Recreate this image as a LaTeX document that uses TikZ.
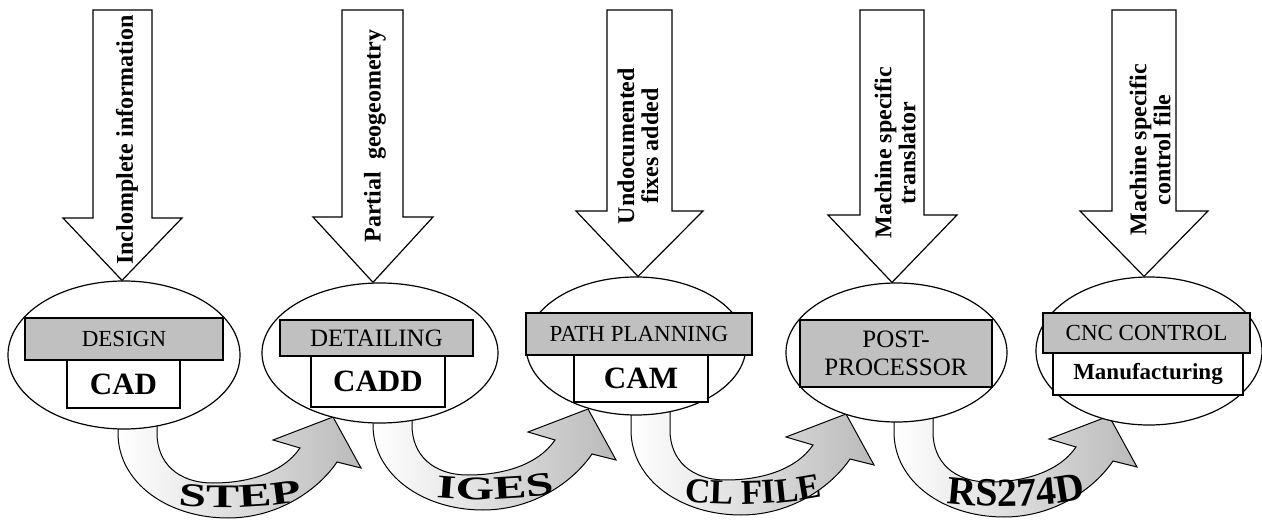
\documentclass[tikz,border=0pt]{standalone}
\usepackage{fontspec}
\setmainfont{Liberation Serif}
\newfontfamily\wordA[FakeStretch=1.5]{Liberation Serif}
\newfontfamily\wordB[FakeStretch=1.0]{Liberation Serif}
\usetikzlibrary{calc,decorations.text,shapes.geometric}
\definecolor{boxgray}{RGB}{192,192,192}
\newcommand\artlabel[2]{%
  \path[decorate,decoration={text along path,text align=center,text={|#1|#2}}]
    (20,-21) .. controls (62,-6) and (172,-6) .. (224,-28);
}
\begin{document}
\begin{tikzpicture}[x=1pt,y=-1pt,
  ell/.style={ellipse,draw,line width=1.2pt,fill=white,inner sep=0pt},
  graybox/.style={draw,line width=1.3pt,fill=boxgray,inner sep=0pt,align=center,font=\fontsize{23}{27}\selectfont},
  whitebox/.style={draw,line width=1.3pt,fill=white,inner sep=0pt,font=\fontsize{31}{31}\selectfont\bfseries},
  blockarrow/.style={draw,line width=1.2pt,fill=white,line join=miter},
  arrowtext/.style={rotate=90,align=center,font=\fontsize{24}{24}\selectfont\bfseries,inner sep=0pt},
  band/.style={draw,line width=1pt,left color=white,right color=black!27},
  bandarrow/.pic={
    \path[band] (0,-115) -- (0,-85) .. controls (0,-35) and (50,0) .. (110,0)
      .. controls (160,0) and (200,-28) .. (219,-56) -- (243,-50) -- (215,-101)
      -- (155,-78) -- (182,-70) .. controls (165,-45) and (130,-35) .. (95,-35)
      .. controls (60,-35) and (39,-55) .. (39,-85) -- (39,-115) -- cycle;
  }
]
\useasboundingbox (0,0) rectangle (1262,521);

% curved band arrows
\begin{scope}[shift={(118,518)}]
  \pic {bandarrow};
  \artlabel{\wordA\fontsize{33}{33}\selectfont\bfseries}{STEP}
\end{scope}
\begin{scope}[shift={(373,510)}]
  \pic {bandarrow};
  \artlabel{\wordA\fontsize{33}{33}\selectfont\bfseries}{IGES}
\end{scope}
\begin{scope}[shift={(631,515)}]
  \pic {bandarrow};
  \artlabel{\wordB\fontsize{35}{35}\selectfont\bfseries}{CL FILE}
\end{scope}
\begin{scope}[shift={(894,517)}]
  \pic {bandarrow};
  \artlabel{\wordB\fontsize{40}{40}\selectfont\bfseries}{RS274D}
\end{scope}

% ellipses
\node[ell,minimum width=232pt,minimum height=148pt] (e1) at (124,355) {};
\node[ell,minimum width=236pt,minimum height=140pt] (e2) at (380,353) {};
\node[ell,minimum width=220pt,minimum height=138pt] (e3) at (636,346) {};
\node[ell,minimum width=221pt,minimum height=139pt] (e4) at (896.5,352.5) {};
\node[ell,minimum width=226pt,minimum height=148pt] (e5) at (1149,351) {};

% boxes
\node[graybox,minimum width=198pt,minimum height=42pt] (g1) at (124,339) {DESIGN};
\node[whitebox,minimum width=113pt,minimum height=48pt] (w1) at (123.5,384) {CAD};
\node[graybox,minimum width=193pt,minimum height=36pt,font=\fontsize{25}{27}\selectfont] (g2) at (376.5,338) {DETAILING};
\node[whitebox,minimum width=134pt,minimum height=51pt] (w2) at (378,381.5) {CADD};
\node[graybox,minimum width=226pt,minimum height=42pt] (g3) at (639,334) {PATH PLANNING};
\node[whitebox,minimum width=134pt,minimum height=47pt] (w3) at (641,378.5) {CAM};
\node[graybox,minimum width=192pt,minimum height=67pt,font=\fontsize{25}{28}\selectfont] (g4) at (896,353.5) {POST-\\PROCESSOR};
\node[graybox,minimum width=207pt,minimum height=40pt] (g5) at (1146.5,333) {CNC CONTROL};
\node[whitebox,minimum width=190pt,minimum height=42pt,font=\fontsize{23}{23}\selectfont\bfseries] (w5) at (1148,374) {Manufacturing};

% block arrows
\draw[blockarrow] (122,0 |- e1.north) -- (63,218) -- (93,218) -- (93,10) -- (152,10) -- (152,218) -- (182,218) -- cycle;
\draw[blockarrow] (373,0 |- e2.north) -- (313,217) -- (342,217) -- (342,10) -- (403,10) -- (403,217) -- (433,217) -- cycle;
\draw[blockarrow] (638,0 |- e3.north) -- (576,211) -- (607,211) -- (607,10) -- (672,10) -- (672,211) -- (703,211) -- cycle;
\draw[blockarrow] (892,0 |- e4.north) -- (828,215) -- (860,215) -- (860,10) -- (924,10) -- (924,215) -- (957,215) -- cycle;
\draw[blockarrow] (1144,0 |- e5.north) -- (1080,211) -- (1112,211) -- (1112,10) -- (1176,10) -- (1176,211) -- (1208,211) -- cycle;

% arrow texts
\node[arrowtext] (t1) at (127,140) {Inclomplete information};
\node[arrowtext] (t2) at (375,136) {Partial\ \ geogeometry};
\node[arrowtext] (t3) at (638,146) {Undocumented\\fixes added};
\node[arrowtext] (t4) at (895,153) {Machine specific\\translator};
\node[arrowtext] (t5) at (1150,150) {Machine specific\\control file};
\end{tikzpicture}
\end{document}
